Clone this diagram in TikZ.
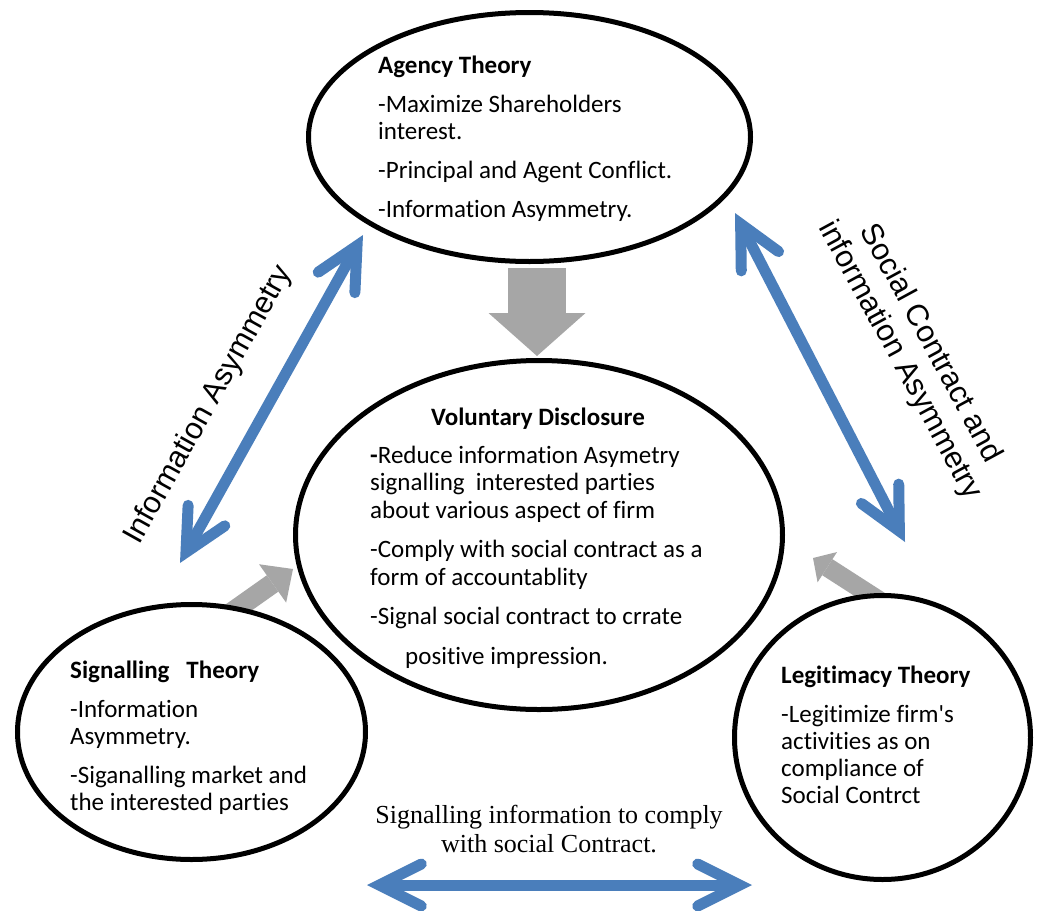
\documentclass[tikz,border=0pt]{standalone}
\usepackage{fontspec}
\setmainfont{Carlito}[Ligatures={TeX,NoCommon}]
\newfontfamily\labelsans{Liberation Sans}
\newfontfamily\labelserif{Liberation Serif}
\usetikzlibrary{shapes.geometric,arrows.meta}
\definecolor{linkblue}{RGB}{74,126,187}
\definecolor{flowgray}{RGB}{166,166,166}
% fixed height for the first line, so that anchor=north sits a known distance above its baseline
\newcommand\firstlinestrut{\rule{0pt}{22pt}}

\begin{document}
\begin{tikzpicture}[x=1pt,y=-1pt,
  oval/.style={ellipse, draw, line width=5pt, fill=white, inner sep=0pt},
  body/.style={anchor=north west, align=left, inner sep=0pt, font=\fontsize{25}{27}\selectfont},
  heading/.style={anchor=base, inner sep=0pt, font=\fontsize{25}{27}\selectfont\bfseries},
  flow/.style={draw=flowgray, line width=#1},
  link/.style={draw=linkblue, line width=11pt,
    {Straight Barb[length=42pt,width=42pt,line cap=round,line join=miter]}-{Straight Barb[length=42pt,width=42pt,line cap=round,line join=miter]}},
  sidelabel/.style={font=\labelsans\fontsize{30.5}{35}\selectfont, inner sep=0pt},
]
\useasboundingbox[fill=white] (0,0) rectangle (1037,911);

% grey flow arrows into the central disclosure ellipse
\coordinate (agTail) at (537,268);
\coordinate (agTip)  at (537,356);
\coordinate (sgTail) at (211,627);
\coordinate (sgTip)  at (293,569);
\coordinate (lgTail) at (897,612);
\coordinate (lgTip)  at (813,558);
\draw[flow=58pt, -{Triangle[width=97pt,length=43pt,line width=0pt]}] (agTail) -- (agTip);
\draw[flow=20pt, -{Triangle[width=47pt,length=25pt,line width=0pt]}] (sgTail) -- (sgTip);
\draw[flow=19pt, -{Triangle[width=36pt,length=17pt,line width=0pt]}] (lgTail) -- (lgTip);

% theory ellipses
\node[oval, minimum width=442pt, minimum height=249pt] (agency) at (529.5,137) {};
\node[oval, minimum width=487pt, minimum height=349pt] (vd) at (539,535) {};
\node[oval, minimum width=348pt, minimum height=255pt] (signal) at (191.5,732) {};
\node[oval, minimum width=296pt, minimum height=284pt] (legit) at (882.5,737.5) {};

% ellipse contents
\node[body] (agencytext) at (378,51) {\firstlinestrut\textbf{Agency Theory}\\[12pt]-Maximize Shareholders\\interest.\\[12pt]-Principal and Agent Conflict.\\[12pt]-Information Asymmetry.};

\node[heading] (vdtitle) at (538,425) {Voluntary Disclosure};
\node[body, font=\fontsize{25}{27.5}\selectfont] (vdtext) at (370,441) {\firstlinestrut\textbf{-}Reduce information Asymetry\\signalling\ \ interested parties\\about various aspect of firm\\[12pt]-Comply with social contract as a\\form of accountablity\\[12pt]-Signal social contract to crrate\\[12pt]\hspace*{35pt}positive impression.};

\node[body] (signaltext) at (70,656) {\firstlinestrut\textbf{Signalling\ \ \ Theory}\\[12pt]-Information\\Asymmetry.\\[12pt]-Siganalling market and\\the interested parties};

\node[body] (legittext) at (781,661) {\firstlinestrut\textbf{Legitimacy Theory}\\[12pt]-Legitimize firm\textquotesingle s\\activities as on\\compliance of\\Social Contrct};

% blue two-way links between the theories
\coordinate (iaTop) at (363,235);
\coordinate (iaBot) at (180,563);
\coordinate (scTop) at (735,213);
\coordinate (scBot) at (905,542);
\coordinate (btLeft) at (367,885);
\coordinate (btRight) at (752,885);
\draw[link] (iaBot) -- (iaTop);
\draw[link] (scTop) -- (scBot);
\draw[link] (btLeft) -- (btRight);

% link labels
\node[sidelabel, rotate=60.8] (ialabel) at (209,405) {Information Asymmetry};
\node[sidelabel, rotate=-61.5, align=center] (sclabel) at (915,352) {Social Contract and\\information Asymmetry};
\node[anchor=north, align=center, inner sep=0pt, font=\labelserif\fontsize{26}{29}\selectfont] (btlabel) at (549,801) {\firstlinestrut Signalling information to comply\\with social Contract.};
\end{tikzpicture}
\end{document}
